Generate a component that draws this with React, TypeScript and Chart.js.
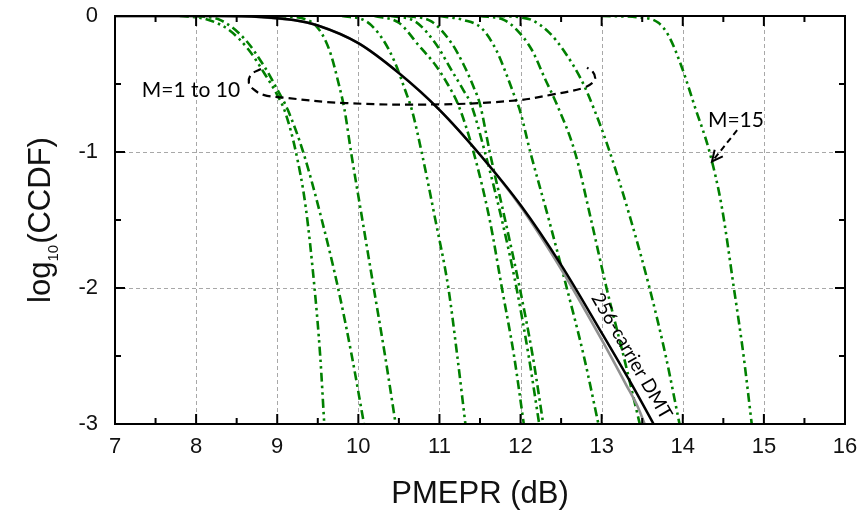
import React, { useEffect, useRef } from "react";
import { Chart, registerables } from "chart.js";

Chart.register(...registerables);

// ---- axis ticks ----
const xTickValues = [7, 8, 9, 10, 11, 12, 13, 14, 15, 16];
const xTickLabels = ["7", "8", "9", "10", "11", "12", "13", "14", "15", "16"];
const yTickValues = [0, -1, -2, -3];
const yTickLabels = ["0", "-1", "-2", "-3"];

// ---- green curves (M = 1 ... 10, and M = 15) ----
const m1X = [7.8, 8.1, 8.4, 8.65, 8.85, 9.0, 9.1, 9.23, 9.35, 9.46, 9.53, 9.58];
const m1Y = [0, -0.02, -0.1, -0.25, -0.43, -0.58, -0.71, -1.0, -1.4, -2.0, -2.5, -3.0];

const m2X = [8.0, 8.3, 8.6, 8.85, 9.0, 9.13, 9.32, 9.55, 9.75, 9.92, 10.07];
const m2Y = [0, -0.03, -0.17, -0.38, -0.54, -0.69, -1.0, -1.5, -2.0, -2.5, -3.0];

const m3X = [9.0, 9.38, 9.55, 9.66, 9.75, 9.83, 9.91, 10.05, 10.19, 10.33, 10.46];
const m3Y = [0, -0.03, -0.13, -0.28, -0.48, -0.69, -1.0, -1.5, -2.0, -2.5, -3.0];

const m4X = [9.8, 10.1, 10.3, 10.45, 10.58, 10.66, 10.78, 10.95, 11.11, 11.22, 11.32];
const m4Y = [0, -0.04, -0.17, -0.34, -0.55, -0.69, -1.0, -1.5, -2.0, -2.5, -3.0];

const m5X = [10.2, 10.5, 10.75, 10.95, 11.1, 11.23, 11.42, 11.62, 11.77, 11.92, 12.04];
const m5Y = [0, -0.05, -0.22, -0.36, -0.5, -0.65, -1.0, -1.5, -2.0, -2.5, -3.0];

const m6X = [10.4, 10.7, 10.95, 11.15, 11.3, 11.39, 11.56, 11.77, 11.95, 12.1, 12.23];
const m6Y = [0, -0.04, -0.2, -0.4, -0.55, -0.65, -1.0, -1.5, -2.0, -2.5, -3.0];

const m7X = [10.6, 10.9, 11.15, 11.3, 11.42, 11.5, 11.62, 11.81, 11.99, 12.15, 12.28];
const m7Y = [0, -0.04, -0.2, -0.36, -0.52, -0.65, -1.0, -1.5, -2.0, -2.5, -3.0];

const m8X = [11.0, 11.3, 11.52, 11.7, 11.82, 11.92, 11.99, 12.12, 12.35, 12.57, 12.78, 12.96];
const m8Y = [0, -0.03, -0.09, -0.25, -0.42, -0.58, -0.69, -1.0, -1.5, -2.0, -2.5, -3.0];

const m9X = [11.5, 11.8, 11.95, 12.14, 12.3, 12.44, 12.67, 12.87, 13.06, 13.27, 13.47];
const m9Y = [0, -0.03, -0.1, -0.25, -0.46, -0.64, -1.0, -1.5, -2.0, -2.5, -3.0];

const m10X = [11.7, 12.0, 12.14, 12.35, 12.55, 12.75, 12.91, 13.1, 13.36, 13.59, 13.79, 13.96];
const m10Y = [0, -0.01, -0.03, -0.12, -0.27, -0.47, -0.69, -1.0, -1.5, -2.0, -2.5, -3.0];

const m15X = [13.0, 13.45, 13.7, 13.83, 13.99, 14.15, 14.33, 14.48, 14.63, 14.75, 14.85];
const m15Y = [0, -0.01, -0.05, -0.15, -0.38, -0.67, -1.0, -1.4, -2.0, -2.5, -3.0];

// ---- 256-carrier DMT (theory: black, simulation: grey) ----
const dmtX = [7.0, 8.3, 8.8, 9.2, 9.5, 10.0, 10.5, 11.0, 11.5, 12.0, 12.5, 13.0, 13.4, 13.64];
const dmtY = [0, 0, -0.008, -0.03, -0.07, -0.2, -0.42, -0.69, -1.02, -1.39, -1.83, -2.33, -2.74, -3.0];
const simX = [7.0, 8.3, 8.8, 9.2, 9.5, 10.0, 10.5, 11.0, 11.5, 12.0, 12.5, 13.0, 13.3, 13.45, 13.53];
const simY = [0, 0, -0.008, -0.03, -0.07, -0.2, -0.42, -0.69, -1.02, -1.4, -1.86, -2.38, -2.71, -2.88, -3.0];

// ---- annotation: open ellipse around M = 1 to 10 (data units) ----
const ellX = [8.8, 8.68, 8.65, 8.71, 8.83, 9.07, 9.83, 11.0, 11.96, 12.37, 12.77, 12.89, 12.92, 12.89, 12.82];
const ellY = [-0.39, -0.43, -0.49, -0.54, -0.58, -0.6, -0.64, -0.65, -0.62, -0.58, -0.53, -0.49, -0.455, -0.41, -0.38];

// annotation anchors (data units)
const labelM110 = { text: "M=1 to 10", x: 7.33, y: -0.545 };
const labelM15 = { text: "M=15", x: 14.31, y: -0.765 };
const arrowM15 = { x1: 14.67, y1: -0.84, x2: 14.36, y2: -1.07 };
const labelDMT = { text: "256-carrier DMT", x: 13.37, y: -2.5, angle: 60 };

const GREEN = "#008000";
const dashDot = [9, 4, 2.5, 4];
const dashDotDot = [9, 4, 2.5, 4, 2.5, 4];

const toPts = (xs: number[], ys: number[]) => xs.map((x, i) => ({ x, y: ys[i] }));

const greenCurves: [number[], number[], number[]][] = [
  [m1X, m1Y, dashDotDot],
  [m2X, m2Y, dashDot],
  [m3X, m3Y, dashDot],
  [m4X, m4Y, dashDotDot],
  [m5X, m5Y, dashDot],
  [m6X, m6Y, dashDotDot],
  [m7X, m7Y, dashDot],
  [m8X, m8Y, dashDotDot],
  [m9X, m9Y, dashDot],
  [m10X, m10Y, dashDotDot],
  [m15X, m15Y, dashDotDot],
];

const SANS = "'Liberation Sans', Arial, sans-serif";
const ANNO = "Lato, 'Open Sans', sans-serif";

const decorPlugin = {
  id: "decor",
  beforeDatasetsDraw(chart: any) {
    const { ctx, chartArea: a, scales } = chart;
    const xs = scales.x;
    const ys = scales.y;
    ctx.save();
    ctx.strokeStyle = "#a8a8a8";
    ctx.lineWidth = 1;
    ctx.setLineDash([4, 3]);
    for (const v of xTickValues) {
      const px = Math.round(xs.getPixelForValue(v)) + 0.5;
      if (px < a.left + 2 || px > a.right - 2) continue;
      ctx.beginPath();
      ctx.moveTo(px, a.top);
      ctx.lineTo(px, a.bottom);
      ctx.stroke();
    }
    for (const v of yTickValues) {
      const py = Math.round(ys.getPixelForValue(v)) + 0.5;
      if (py < a.top + 2 || py > a.bottom - 2) continue;
      ctx.beginPath();
      ctx.moveTo(a.left, py);
      ctx.lineTo(a.right, py);
      ctx.stroke();
    }
    ctx.restore();
  },
  afterDatasetsDraw(chart: any) {
    const { ctx, chartArea: a, scales } = chart;
    const xs = scales.x;
    const ys = scales.y;
    ctx.save();
    ctx.setLineDash([]);
    ctx.strokeStyle = "#000";
    ctx.lineWidth = 2;
    ctx.strokeRect(a.left, a.top, a.right - a.left, a.bottom - a.top);
    const major = 10;
    const minor = 6;
    for (let i = 0; i < xTickValues.length; i++) {
      const v = xTickValues[i];
      const px = xs.getPixelForValue(v);
      ctx.beginPath();
      ctx.moveTo(px, a.bottom);
      ctx.lineTo(px, a.bottom - major);
      ctx.moveTo(px, a.top);
      ctx.lineTo(px, a.top + major);
      ctx.stroke();
      if (i < xTickValues.length - 1) {
        const pm = xs.getPixelForValue((v + xTickValues[i + 1]) / 2);
        ctx.beginPath();
        ctx.moveTo(pm, a.bottom);
        ctx.lineTo(pm, a.bottom - minor);
        ctx.moveTo(pm, a.top);
        ctx.lineTo(pm, a.top + minor);
        ctx.stroke();
      }
    }
    for (let i = 0; i < yTickValues.length; i++) {
      const v = yTickValues[i];
      const py = ys.getPixelForValue(v);
      ctx.beginPath();
      ctx.moveTo(a.left, py);
      ctx.lineTo(a.left + major, py);
      ctx.moveTo(a.right, py);
      ctx.lineTo(a.right - major, py);
      ctx.stroke();
      if (i < yTickValues.length - 1) {
        const pm = ys.getPixelForValue((v + yTickValues[i + 1]) / 2);
        ctx.beginPath();
        ctx.moveTo(a.left, pm);
        ctx.lineTo(a.left + minor, pm);
        ctx.moveTo(a.right, pm);
        ctx.lineTo(a.right - minor, pm);
        ctx.stroke();
      }
    }
    ctx.restore();
  },
  afterDraw(chart: any) {
    const { ctx, chartArea: a, scales } = chart;
    const xs = scales.x;
    const ys = scales.y;
    ctx.save();
    ctx.fillStyle = "#000";

    ctx.font = `21px ${ANNO}`;
    ctx.textAlign = "left";
    ctx.textBaseline = "middle";
    ctx.fillText(labelM110.text, xs.getPixelForValue(labelM110.x), ys.getPixelForValue(labelM110.y));
    ctx.fillText(labelM15.text, xs.getPixelForValue(labelM15.x), ys.getPixelForValue(labelM15.y));

    ctx.save();
    ctx.translate(xs.getPixelForValue(labelDMT.x), ys.getPixelForValue(labelDMT.y));
    ctx.rotate((labelDMT.angle * Math.PI) / 180);
    ctx.font = `19px ${ANNO}`;
    ctx.textAlign = "center";
    ctx.textBaseline = "middle";
    ctx.fillText(labelDMT.text, 0, 0);
    ctx.restore();

    const ax1 = xs.getPixelForValue(arrowM15.x1);
    const ay1 = ys.getPixelForValue(arrowM15.y1);
    const ax2 = xs.getPixelForValue(arrowM15.x2);
    const ay2 = ys.getPixelForValue(arrowM15.y2);
    ctx.strokeStyle = "#000";
    ctx.lineWidth = 2;
    ctx.setLineDash([6, 4]);
    ctx.beginPath();
    ctx.moveTo(ax1, ay1);
    ctx.lineTo(ax2, ay2);
    ctx.stroke();
    ctx.setLineDash([]);
    const ang = Math.atan2(ay2 - ay1, ax2 - ax1);
    const hl = 12;
    ctx.beginPath();
    ctx.moveTo(ax2 - hl * Math.cos(ang - 0.45), ay2 - hl * Math.sin(ang - 0.45));
    ctx.lineTo(ax2, ay2);
    ctx.lineTo(ax2 - hl * Math.cos(ang + 0.45), ay2 - hl * Math.sin(ang + 0.45));
    ctx.stroke();

    ctx.font = `31px ${SANS}`;
    ctx.textAlign = "center";
    ctx.textBaseline = "alphabetic";
    ctx.fillStyle = "#111";
    ctx.fillText("PMEPR (dB)", (a.left + a.right) / 2, 503);

    ctx.save();
    const cy = (a.top + a.bottom) / 2;
    ctx.translate(50, cy);
    ctx.rotate(-Math.PI / 2);
    const mainFont = `31px ${SANS}`;
    const subFont = `15px ${SANS}`;
    ctx.font = mainFont;
    const w1 = ctx.measureText("log").width;
    const w3 = ctx.measureText("(CCDF)").width;
    ctx.font = subFont;
    const w2 = ctx.measureText("10").width + 1;
    const total = w1 + w2 + w3;
    let x0 = -total / 2;
    ctx.textAlign = "left";
    ctx.font = mainFont;
    ctx.fillText("log", x0, 0);
    x0 += w1;
    ctx.font = subFont;
    ctx.fillText("10", x0, 8);
    x0 += w2;
    ctx.font = mainFont;
    ctx.fillText("(CCDF)", x0, 0);
    ctx.restore();

    ctx.restore();
  },
};

export default function App() {
  const ref = useRef<HTMLCanvasElement | null>(null);
  useEffect(() => {
    if (!ref.current) return;
    // Chart.js draws lower-index datasets on top
    const datasets: any[] = [];
    datasets.push({
      data: toPts(ellX, ellY),
      borderColor: "#000000",
      borderWidth: 2.2,
      borderDash: [8, 5],
      tension: 0.4,
      pointRadius: 0,
    });
    datasets.push({
      data: toPts(dmtX, dmtY),
      borderColor: "#000000",
      borderWidth: 2.5,
      cubicInterpolationMode: "monotone",
      pointRadius: 0,
    });
    datasets.push({
      data: toPts(simX, simY),
      borderColor: "#909090",
      borderWidth: 2.6,
      cubicInterpolationMode: "monotone",
      pointRadius: 0,
    });
    for (const [xs, ys, dash] of greenCurves) {
      datasets.push({
        data: toPts(xs, ys),
        borderColor: GREEN,
        borderWidth: 2.6,
        borderDash: dash,
        cubicInterpolationMode: "monotone",
        pointRadius: 0,
      });
    }

    const tickFont = { family: SANS, size: 22 };
    const chart = new Chart(ref.current, {
      type: "line",
      data: { datasets },
      options: {
        animation: false,
        responsive: false,
        maintainAspectRatio: false,
        layout: { padding: { top: 16, right: 19, left: 0, bottom: 0 } },
        plugins: { legend: { display: false }, tooltip: { enabled: false } },
        elements: { point: { radius: 0 } },
        scales: {
          x: {
            type: "linear",
            min: 7,
            max: 16,
            afterFit: (s: any) => {
              s.height = 91;
              s.paddingLeft = 0;
              s.paddingRight = 0;
            },
            afterBuildTicks: (s: any) => {
              s.ticks = xTickValues.map((v) => ({ value: v }));
            },
            ticks: {
              padding: 10,
              font: tickFont,
              color: "#111",
              maxRotation: 0,
              autoSkip: false,
              callback: (v: any) => {
                const i = xTickValues.indexOf(Number(v));
                return i >= 0 ? xTickLabels[i] : "";
              },
            },
            grid: { display: false, drawTicks: false, tickLength: 0 },
            border: { display: false },
          },
          y: {
            type: "linear",
            min: -3,
            max: 0,
            afterFit: (s: any) => {
              s.width = 115;
              s.paddingTop = 0;
              s.paddingBottom = 0;
            },
            afterBuildTicks: (s: any) => {
              s.ticks = yTickValues.map((v) => ({ value: v }));
            },
            ticks: {
              padding: 17,
              font: tickFont,
              color: "#111",
              autoSkip: false,
              callback: (v: any) => {
                const i = yTickValues.indexOf(Number(v));
                return i >= 0 ? yTickLabels[i] : "";
              },
            },
            grid: { display: false, drawTicks: false, tickLength: 0 },
            border: { display: false },
          },
        },
      } as any,
      plugins: [decorPlugin],
    });
    return () => chart.destroy();
  }, []);

  return (
    <div style={{ position: "fixed", left: 0, top: 0, width: 864, height: 515, background: "#fff" }}>
      <canvas ref={ref} width={864} height={515} style={{ display: "block", width: 864, height: 515 }} />
    </div>
  );
}
